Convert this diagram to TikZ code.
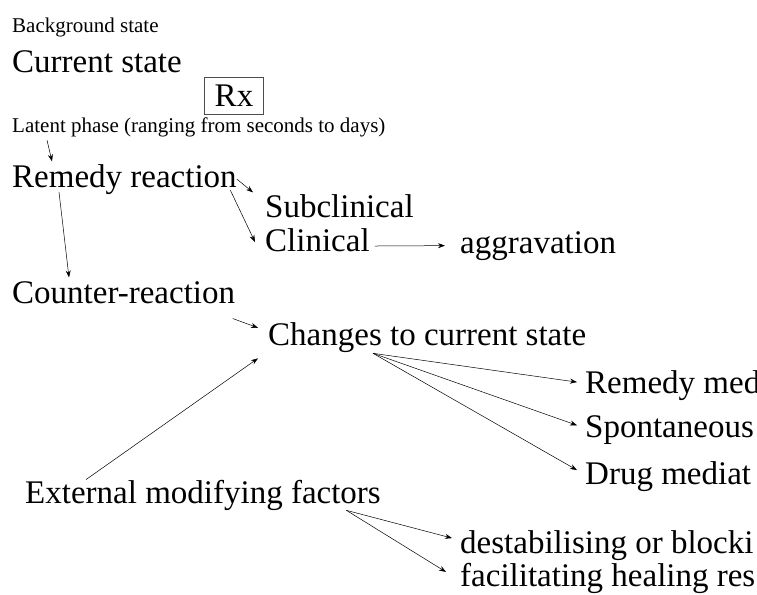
\documentclass[tikz,border=0pt]{standalone}
\usepackage{fontspec}
\setmainfont{Liberation Serif}
\usetikzlibrary{arrows.meta}
\tikzset{bigtext/.style = {inner sep = 0pt, anchor = base west,
    font = \fontsize{33}{36}\selectfont},
    smalltext/.style = {inner sep = 0pt, anchor = base west,
    font = \fontsize{21}{24}\selectfont}
}

\begin{document}
\begin{tikzpicture}[x = 1pt, y = -1pt]

    \tikzset{thinarrow/.style = {-{Stealth[length = 7pt, width = 5pt]}, line width = 0.5pt}}

    \useasboundingbox (0,0) rectangle (757,594);
    \clip (0,0) rectangle (757,594);

    % states
    \node (background) [smalltext] at (12,33) {Background state};
    \node (current) [bigtext] at (12,73) {Current state};
    \node (rx) [draw = black!70, line width = 0.6pt, inner xsep = 10.5pt, inner ysep = 7.5pt,
        font = \fontsize{33}{36}\selectfont] at (234,95.5) {Rx};
    \node (latent) [smalltext] at (12,132) {Latent phase (ranging from seconds to days)};

    % reactions
    \node (remedy) [bigtext] at (12,187) {Remedy reaction};
    \node (subcl) [bigtext] at (265,217) {Subclinical};
    \node (clin) [bigtext] at (265,251) {Clinical};
    \node (aggr) [bigtext] at (460,253) {aggravation};
    \node (counter) [bigtext] at (12,303) {Counter-reaction};
    \node (changes) [bigtext] at (268,345) {Changes to current state};
    \node (remmed) [bigtext] at (585,393) {Remedy med};
    \node (spont) [bigtext] at (585,437) {Spontaneous};
    \node (drugmed) [bigtext] at (585,484) {Drug mediat};
    \node (external) [bigtext] at (25,503) {External modifying factors};
    \node (destab) [bigtext] at (460,553) {destabilising or blocki};
    \node (facil) [bigtext] at (460,586) {facilitating healing res};

    \draw[thinarrow] ([xshift = 35pt, yshift = -3.4pt]latent.south west)
        -- ([xshift = 40pt, yshift = 2.5pt]remedy.north west);
    \draw[thinarrow] (remedy.east) -- ([xshift = -12pt, yshift = 1.5pt]subcl.north west);
    \draw[thinarrow] ([xshift = -6.5pt, yshift = 4pt]remedy.south east)
        -- ([xshift = -10pt, yshift = -2.3pt]clin.west);
    \draw[thinarrow] ([xshift = 5pt, yshift = -6.3pt]clin.east) -- ([xshift = -15pt]aggr.west);
    \draw[thinarrow] ([xshift = 47pt, yshift = 2.2pt]remedy.south west)
        -- ([xshift = 57pt, yshift = 3.5pt]counter.north west);
    \draw[thinarrow] ([xshift = -2.6pt, yshift = -15pt]counter.south east)
        -- ([xshift = -10pt, yshift = 9.3pt]changes.west);

    % outcomes
    \draw[thinarrow] ([xshift = 105pt, yshift = -1pt]changes.south west)
        -- ([xshift = -8pt, yshift = 3pt]remmed.west);
    \draw[thinarrow] ([xshift = 105pt, yshift = -1pt]changes.south west)
        -- ([xshift = -8pt, yshift = 4.3pt]spont.west);
    \draw[thinarrow] ([xshift = 105pt, yshift = -1pt]changes.south west)
        -- ([xshift = -8pt, yshift = 6pt]drugmed.west);

    \draw[thinarrow] ([xshift = 61pt]external.north west)
        -- ([xshift = -10pt, yshift = -6pt]changes.south west);
    \draw[thinarrow] ([xshift = -34.6pt]external.south east)
        -- ([xshift = -8pt, yshift = 7pt]destab.west);
    \draw[thinarrow] ([xshift = -34.6pt]external.south east)
        -- ([xshift = -14pt, yshift = 6pt]facil.west);

\end{tikzpicture}
\end{document}
